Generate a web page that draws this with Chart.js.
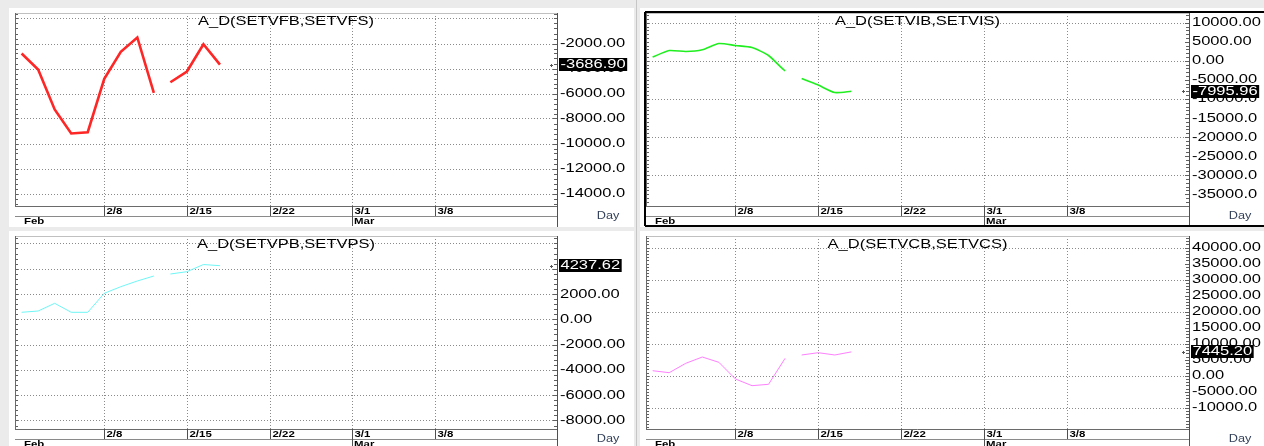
<!DOCTYPE html>
<html lang="en">
<head>
<meta charset="UTF-8" />
<title>A_D panels</title>
<style>
  body {
    margin: 0;
    width: 1264px; height: 446px;
    overflow: hidden;
    position: relative;
    background: #ebebeb;
    font-family: 'Liberation Sans', Arial, sans-serif;
  }
  .panel { position: absolute; background: #fff; }
  .panel canvas { display: block; }
  .sep { position: absolute; left: 636px; top: 0; width: 1px; height: 446px; background: #c6c6c6; }
</style>
</head>
<body>
  <div class="sep"></div>
  <div class="panel" style="left:9px;top:8px;width:625px;height:219px"><canvas id="c0" width="625" height="219"></canvas></div>
  <div class="panel" style="left:640px;top:8px;width:624px;height:219px"><canvas id="c1" width="624" height="219"></canvas></div>
  <div class="panel" style="left:9px;top:231px;width:625px;height:215px"><canvas id="c2" width="625" height="215"></canvas></div>
  <div class="panel" style="left:640px;top:231px;width:624px;height:215px"><canvas id="c3" width="624" height="215"></canvas></div>

<script src="https://cdn.jsdelivr.net/npm/chart.js"></script>
<script>
// trading days shown (x = index in this list)
const days = ['2/1','2/2','2/3','2/4','2/5','2/8','2/9','2/10','2/11','2/12','2/15','2/16','2/17'];
const weekIdx = [5, 10, 15, 20, 25];
const weekLabels = ['2/8', '2/15', '2/22', '3/1', '3/8'];
const monthIdx = [0, 20];
const monthLabels = ['Feb', 'Mar'];
const breakAfter = 8; // no line between 2/11 and 2/12

// series values
const vfb = [-2800, -4080, -7280, -9200, -9100, -4830, -2670, -1520, -5950, -5100, -4240, -2060, -3686.90];
const vib = [970, 2700, 2440, 2890, 4540, 4020, 3490, 1390, -2620, -4650, -6380, -8320, -7995.96];
const vpb = [553, 656, 1265, 553, 553, 2055, 2577, 3028, 3423, 3581, 3763, 4330, 4237.62];
const vcb = [1560, 940, 3870, 5840, 4180, -1030, -3120, -2690, 5430, 6470, 7190, 6470, 7445.20];

// axis labels / grid values
const vfbTicks = [-2000, -4000, -6000, -8000, -10000, -12000, -14000];
const vfbGrid  = [0, -2000, -4000, -6000, -8000, -10000, -12000, -14000];
const vibTicks = [10000, 5000, 0, -5000, -10000, -15000, -20000, -25000, -30000, -35000];
const vibGrid  = [10000, 0, -10000, -20000, -30000];
const vpbTicks = [4000, 2000, 0, -2000, -4000, -6000, -8000];
const vpbGrid  = [6000, 4000, 2000, 0, -2000, -4000, -6000, -8000];
const vcbTicks = [40000, 35000, 30000, 25000, 20000, 15000, 10000, 5000, 0, -5000, -10000];
const vcbGrid  = [40000, 30000, 20000, 10000, 0, -10000];

const X_MIN = -0.4, X_MAX = 32.39;
const SX = 1.27; // text in the picture is stretched sideways

function txt(ctx, s, x, y, font, color, align) {
  ctx.save();
  ctx.font = font;
  ctx.fillStyle = color;
  ctx.textBaseline = 'middle';
  ctx.textAlign = 'left';
  const w = ctx.measureText(s).width * SX;
  const x0 = align === 'center' ? x - w / 2 : (align === 'right' ? x - w : x);
  ctx.translate(x0, y);
  ctx.scale(SX, 1);
  ctx.fillText(s, 0, 0);
  ctx.restore();
  return w;
}

function seg(ctx, x1, y1, x2, y2) {
  ctx.beginPath(); ctx.moveTo(x1, y1); ctx.lineTo(x2, y2); ctx.stroke();
}

function fmt(v) {
  return v.toFixed(2).slice(0, 8);
}

function panelPlugin(cfg) {
  return {
    id: 'panel',
    beforeDatasetsDraw(chart) {
      const { ctx, chartArea: a, scales: { x, y } } = chart;
      ctx.save();
      ctx.strokeStyle = '#8a8a8a';
      ctx.lineWidth = 1;
      ctx.setLineDash([1, 2]);
      cfg.grid.forEach(v => {
        const py = Math.round(y.getPixelForValue(v)) + 0.5;
        seg(ctx, a.left, py, a.right, py);
      });
      weekIdx.forEach(i => {
        const px = Math.round(x.getPixelForValue(i)) + 0.5;
        seg(ctx, px, a.top, px, a.bottom);
      });
      ctx.restore();
    },
    afterDatasetsDraw(chart) {
      const { ctx, chartArea: a, scales: { x, y } } = chart;
      const H = chart.height, W = chart.width;
      const L = a.left + 0.5, R = a.right + 0.5, T = a.top + 0.5, B = a.bottom + 0.5;
      ctx.save();
      ctx.lineWidth = 1;
      ctx.setLineDash([]);

      // minor ticks on both edges
      ctx.strokeStyle = '#606060';
      const start = Math.ceil(cfg.min / cfg.minor) * cfg.minor;
      for (let v = start; v <= cfg.max; v += cfg.minor) {
        const py = Math.round(y.getPixelForValue(v)) + 0.5;
        const major = cfg.ticks.includes(v);
        seg(ctx, a.left, py, a.left + 3, py);
        seg(ctx, a.right - (major ? 4 : 3), py, a.right, py);
      }

      // frame
      ctx.strokeStyle = '#c0c0c0';
      seg(ctx, a.left, T, a.right, T);
      ctx.strokeStyle = '#6a6a6a';
      seg(ctx, L, a.top, L, a.bottom);
      seg(ctx, a.left, B, a.right, B);
      ctx.strokeStyle = '#8a8a8a';
      seg(ctx, a.left, B + 10, a.right, B + 10);
      ctx.strokeStyle = '#505050';
      seg(ctx, R, a.top, R, H);

      // date axis
      weekIdx.forEach((i, k) => {
        const px = Math.round(x.getPixelForValue(i)) + 0.5;
        const isMonth = monthIdx.includes(i);
        ctx.strokeStyle = '#505050';
        seg(ctx, px, a.bottom, px, a.bottom + (isMonth ? 20 : 10));
        txt(ctx, weekLabels[k], px + 2, a.bottom + 5.5, 'bold 9px "Liberation Sans"', '#000', 'left');
      });
      monthIdx.forEach((i, k) => {
        const px = Math.round(x.getPixelForValue(i)) + 0.5;
        txt(ctx, monthLabels[k], px + 1.5, a.bottom + 15.5, 'bold 9px "Liberation Sans"', '#000', 'left');
      });
      txt(ctx, 'Day', a.right + 51, a.bottom + 10, '10px "Liberation Sans"', '#33405a', 'center');

      // active panel border
      if (cfg.active) {
        ctx.strokeStyle = '#000';
        ctx.lineWidth = 2;
        seg(ctx, a.left - 1, a.top - 1, W, a.top - 1);
        seg(ctx, a.left - 1, a.top - 1, a.left - 1, H - 1);
        seg(ctx, a.left - 1, H - 1, W, H - 1);
        ctx.lineWidth = 1;
      }

      // title
      txt(ctx, cfg.title, (a.left + a.right) / 2, a.top + 8, '13px "Liberation Sans"', '#000', 'center');

      // right axis labels
      cfg.ticks.forEach(v => {
        txt(ctx, fmt(v), a.right + 3, y.getPixelForValue(v), '13px "Liberation Sans"', '#000', 'left');
      });

      // last value box
      const last = cfg.values[cfg.values.length - 1];
      const py = y.getPixelForValue(last);
      ctx.font = '13px "Liberation Sans"';
      const s = last.toFixed(2);
      const w = ctx.measureText(s).width * SX;
      ctx.fillStyle = '#000';
      ctx.fillRect(a.right + 2, Math.round(py - 6.5), w + 3, 13);
      txt(ctx, s, a.right + 3.5, py, '13px "Liberation Sans"', '#fff', 'left');
      ctx.strokeStyle = '#555';
      const mx = a.right - 5.5, my = Math.round(py) + 0.5;
      seg(ctx, mx - 1.5, my, mx + 1.5, my);
      seg(ctx, mx, my - 1.5, mx, my + 1.5);

      ctx.restore();
    }
  };
}

function makePanel(id, cfg) {
  return new Chart(document.getElementById(id), {
    type: 'line',
    data: {
      labels: days,
      datasets: [{
        data: cfg.values.map((v, i) => ({ x: i, y: v })),
        borderColor: cfg.color,
        borderWidth: cfg.width,
        pointRadius: 0,
        tension: cfg.tension || 0,
        fill: false,
        segment: {
          borderColor: c => c.p0DataIndex === breakAfter ? 'rgba(0,0,0,0)' : undefined
        }
      }]
    },
    options: {
      responsive: false,
      animation: false,
      events: [],
      layout: { padding: cfg.pad },
      plugins: { legend: { display: false }, tooltip: { enabled: false } },
      scales: {
        x: { type: 'linear', display: false, min: X_MIN, max: X_MAX },
        y: { type: 'linear', display: false, min: cfg.min, max: cfg.max }
      }
    },
    plugins: [panelPlugin(cfg)]
  });
}

makePanel('c0', {
  title: 'A_D(SETVFB,SETVFS)', values: vfb, color: '#ff2626', width: 2.6,
  min: -15000, max: 440, ticks: vfbTicks, grid: vfbGrid, minor: 400,
  pad: { left: 6, top: 5, right: 77, bottom: 21 }
});
makePanel('c1', {
  title: 'A_D(SETVIB,SETVIS)', values: vib, color: '#1fee1f', width: 1.6, tension: 0.2,
  min: -38110, max: 12546, ticks: vibTicks, grid: vibGrid, minor: 1000, active: true,
  pad: { left: 6, top: 5, right: 75, bottom: 21 }
});
makePanel('c2', {
  title: 'A_D(SETVPB,SETVPS)', values: vpb, color: '#6ff6f6', width: 1,
  min: -8672, max: 6585, ticks: vpbTicks, grid: vpbGrid, minor: 400,
  pad: { left: 6, top: 5, right: 77, bottom: 17 }
});
makePanel('c3', {
  title: 'A_D(SETVCB,SETVCS)', values: vcb, color: '#ff7fff', width: 1,
  min: -16656, max: 43656, ticks: vcbTicks, grid: vcbGrid, minor: 1000,
  pad: { left: 6, top: 5, right: 75, bottom: 17 }
});
</script>
</body>
</html>
